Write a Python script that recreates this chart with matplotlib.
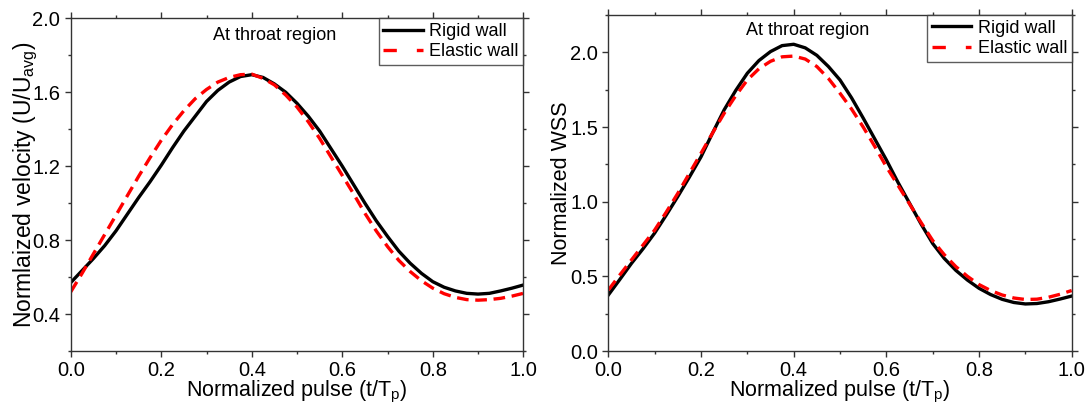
import matplotlib
matplotlib.use('Agg')
import matplotlib.pyplot as plt
from matplotlib.ticker import MultipleLocator

matplotlib.rcParams['font.family'] = ['Liberation Sans', 'DejaVu Sans']

# normalized pulse (t/Tp)
pulse = [0.0, 0.025, 0.05, 0.075, 0.1, 0.125, 0.15, 0.175, 0.2, 0.225,
         0.25, 0.275, 0.3, 0.325, 0.35, 0.375, 0.4, 0.425, 0.45, 0.475,
         0.5, 0.525, 0.55, 0.575, 0.6, 0.625, 0.65, 0.675, 0.7, 0.725,
         0.75, 0.775, 0.8, 0.825, 0.85, 0.875, 0.9, 0.925, 0.95, 0.975, 1.0]

# normalized velocity at throat
vel_rigid = [0.57, 0.635, 0.70, 0.77, 0.85, 0.94, 1.03, 1.115, 1.205, 1.30,
             1.39, 1.47, 1.55, 1.61, 1.655, 1.685, 1.695, 1.68, 1.645, 1.60,
             1.54, 1.47, 1.39, 1.295, 1.20, 1.10, 1.0, 0.905, 0.82, 0.74,
             0.675, 0.62, 0.575, 0.545, 0.525, 0.512, 0.508, 0.512, 0.525, 0.54, 0.557]
vel_elastic = [0.52, 0.62, 0.725, 0.83, 0.935, 1.04, 1.145, 1.245, 1.34, 1.425,
               1.50, 1.565, 1.615, 1.655, 1.68, 1.695, 1.698, 1.675, 1.64, 1.585,
               1.52, 1.44, 1.35, 1.25, 1.15, 1.05, 0.945, 0.85, 0.765, 0.69,
               0.63, 0.58, 0.54, 0.51, 0.49, 0.478, 0.475, 0.478, 0.485, 0.497, 0.512]

# normalized WSS at throat
wss_rigid = [0.375, 0.48, 0.587, 0.685, 0.79, 0.91, 1.035, 1.165, 1.30, 1.46,
             1.615, 1.745, 1.86, 1.945, 2.005, 2.045, 2.054, 2.03, 1.98, 1.905,
             1.815, 1.695, 1.56, 1.42, 1.28, 1.13, 0.99, 0.85, 0.72, 0.62,
             0.54, 0.475, 0.42, 0.378, 0.346, 0.325, 0.315, 0.318, 0.33, 0.348, 0.368]
wss_elastic = [0.408, 0.51, 0.61, 0.71, 0.81, 0.93, 1.056, 1.19, 1.324, 1.46,
               1.592, 1.71, 1.815, 1.89, 1.94, 1.97, 1.975, 1.955, 1.905, 1.825,
               1.726, 1.62, 1.50, 1.37, 1.234, 1.11, 0.985, 0.86, 0.74, 0.645,
               0.565, 0.50, 0.445, 0.405, 0.375, 0.355, 0.345, 0.347, 0.36, 0.38, 0.405]


def style_axes(ax, ymin, ymax, ymajor, yminor):
    ax.set_xlim(0, 1)
    ax.set_ylim(ymin, ymax)
    ax.xaxis.set_major_locator(MultipleLocator(0.2))
    ax.xaxis.set_minor_locator(MultipleLocator(0.1))
    ax.yaxis.set_major_locator(MultipleLocator(ymajor))
    ax.yaxis.set_minor_locator(MultipleLocator(yminor))
    ax.tick_params(which='major', direction='out', length=4, width=1,
                   labelsize=14.5, color='#333333', pad=3.5)
    ax.tick_params(which='minor', direction='out', length=2.5, width=1,
                   color='#333333')
    ax.tick_params(which='both', top=True, right=True)
    for s in ax.spines.values():
        s.set_linewidth(1.0)
        s.set_color('#333333')


def draw(ax, rigid, elastic):
    ax.plot(pulse, rigid, color='black', lw=2.4, label='Rigid wall')
    ax.plot(pulse, elastic, color='red', lw=2.4, dashes=(3.5, 2),
            label='Elastic wall')
    leg = ax.legend(loc='upper right', fontsize=13, frameon=True,
                    fancybox=False, borderaxespad=0, handlelength=2.2,
                    handletextpad=0.35, labelspacing=0.2, borderpad=0.25)
    leg.get_frame().set_edgecolor('#333333')
    leg.get_frame().set_linewidth(1.0)
    leg.get_lines()[1].set_dashes((4.0, 6.0))
    ax.set_xlabel('Normalized pulse (t/T$_\\mathregular{p}$)', fontsize=15.5,
                  labelpad=-1)


fig = plt.figure(figsize=(10.9, 4.08), dpi=100)
ax1 = fig.add_axes([0.0649, 0.1397, 0.4152, 0.8154])
ax2 = fig.add_axes([0.5581, 0.1397, 0.4251, 0.8235])

draw(ax1, vel_rigid, vel_elastic)
style_axes(ax1, 0.2, 2.0, 0.4, 0.2)
ax1.set_ylabel('Normlaized velocity (U/U$_\\mathregular{avg}$)', fontsize=16.5,
               va='center')
ax1.yaxis.set_label_coords(-0.1, 0.5)
ax1.text(0.451, 0.947, 'At throat region', transform=ax1.transAxes,
         fontsize=13, ha='center', va='center')

draw(ax2, wss_rigid, wss_elastic)
style_axes(ax2, 0.0, 2.25, 0.5, 0.25)
ax2.set_ylabel('Normalized WSS', fontsize=15.5, va='center')
ax2.yaxis.set_label_coords(-0.102, 0.5)
ax2.text(0.43, 0.955, 'At throat region', transform=ax2.transAxes,
         fontsize=13, ha='center', va='center')

fig.savefig('out.png', dpi=100)
